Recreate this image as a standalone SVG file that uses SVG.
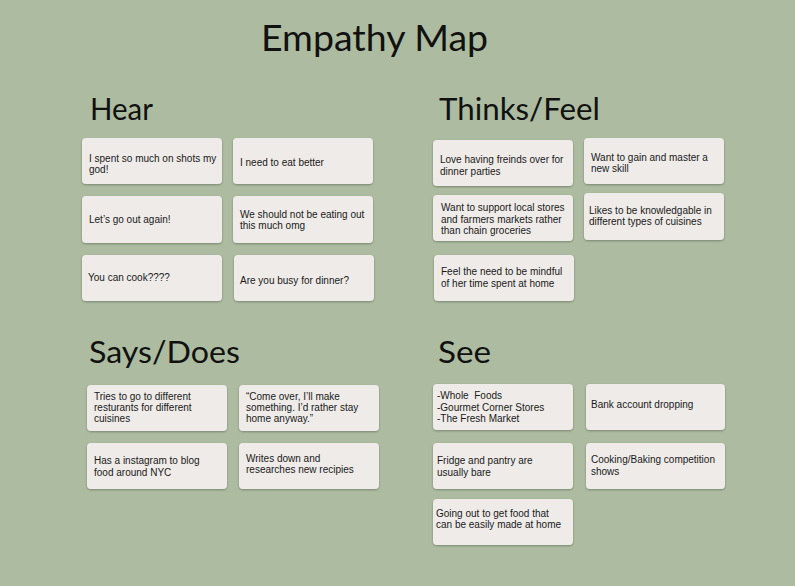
<svg xmlns="http://www.w3.org/2000/svg" width="795" height="586" viewBox="0 0 795 586">
<defs>
<filter id="sh" x="-10%" y="-20%" width="120%" height="150%">
<feDropShadow dx="0" dy="1" stdDeviation="1.2" flood-color="#000" flood-opacity="0.3"/>
</filter>
<style>
.card{fill:#eeebe8;filter:url(#sh)}
.t{font-family:"Liberation Sans",Arial,sans-serif;font-size:10px;fill:#1a1a1a}
.h{font-family:Lato,"Open Sans",sans-serif;font-size:30px;fill:#111}
.title{font-family:Lato,"Open Sans",sans-serif;font-size:36px;fill:#111}
</style>
</defs>
<rect width="795" height="586" fill="#adbca0"/>
<text class="title" x="261" y="51" textLength="227" lengthAdjust="spacingAndGlyphs">Empathy Map</text>
<text class="h" x="90" y="120" textLength="63" lengthAdjust="spacingAndGlyphs">Hear</text>
<text class="h" x="439" y="120" textLength="161" lengthAdjust="spacingAndGlyphs">Thinks/Feel</text>
<text class="h" x="89" y="363" textLength="151" lengthAdjust="spacingAndGlyphs">Says/Does</text>
<text class="h" x="438" y="363" textLength="53" lengthAdjust="spacingAndGlyphs">See</text>

<g id="hear1"><rect class="card" x="82" y="138" width="140" height="46" rx="4"/><text class="t" x="89" y="162">I spent so much on shots my</text><text class="t" x="89" y="173">god!</text></g>
<g id="hear2"><rect class="card" x="233" y="138" width="140" height="46" rx="4"/><text class="t" x="240" y="166">I need to eat better</text></g>
<g id="hear3"><rect class="card" x="82" y="196" width="140" height="47" rx="4"/><text class="t" x="89" y="223">Let’s go out again!</text></g>
<g id="hear4"><rect class="card" x="233" y="196" width="140" height="47" rx="4"/><text class="t" x="240" y="218">We should not be eating out</text><text class="t" x="240" y="229">this much omg</text></g>
<g id="hear5"><rect class="card" x="82" y="255" width="140" height="46" rx="4"/><text class="t" x="88" y="281">You can cook????</text></g>
<g id="hear6"><rect class="card" x="234" y="255" width="140" height="46" rx="4"/><text class="t" x="240" y="284">Are you busy for dinner?</text></g>

<g id="think1"><rect class="card" x="433" y="140" width="140" height="46" rx="4"/><text class="t" x="440" y="163">Love having freinds over for</text><text class="t" x="440" y="175">dinner parties</text></g>
<g id="think2"><rect class="card" x="584" y="138" width="140" height="46" rx="4"/><text class="t" x="591" y="161">Want to gain and master a</text><text class="t" x="591" y="172">new skill</text></g>
<g id="think3"><rect class="card" x="433" y="195" width="140" height="46" rx="4"/><text class="t" x="441" y="211">Want to support local stores</text><text class="t" x="441" y="223">and farmers markets rather</text><text class="t" x="441" y="234">than chain groceries</text></g>
<g id="think4"><rect class="card" x="584" y="193" width="140" height="47" rx="4"/><text class="t" x="589" y="214">Likes to be knowledgable in</text><text class="t" x="589" y="225">different types of cuisines</text></g>
<g id="think5"><rect class="card" x="434" y="255" width="140" height="46" rx="4"/><text class="t" x="441" y="275">Feel the need to be mindful</text><text class="t" x="441" y="287">of her time spent at home</text></g>

<g id="says1"><rect class="card" x="87" y="385" width="140" height="46" rx="4"/><text class="t" x="94" y="400">Tries to go to different</text><text class="t" x="94" y="411">resturants for different</text><text class="t" x="94" y="422">cuisines</text></g>
<g id="says2"><rect class="card" x="239" y="385" width="140" height="46" rx="4"/><text class="t" x="246" y="400">“Come over, I’ll make</text><text class="t" x="246" y="411">something. I’d rather stay</text><text class="t" x="246" y="422">home anyway.”</text></g>
<g id="says3"><rect class="card" x="87" y="443" width="140" height="46" rx="4"/><text class="t" x="94" y="464">Has a instagram to blog</text><text class="t" x="94" y="476">food around NYC</text></g>
<g id="says4"><rect class="card" x="239" y="443" width="140" height="46" rx="4"/><text class="t" x="246" y="462">Writes down and</text><text class="t" x="246" y="473">researches new recipies</text></g>

<g id="see1"><rect class="card" x="433" y="384" width="140" height="46" rx="4"/><text class="t" x="437" y="399" xml:space="preserve">-Whole  Foods</text><text class="t" x="437" y="411">-Gourmet Corner Stores</text><text class="t" x="437" y="422">-The Fresh Market</text></g>
<g id="see2"><rect class="card" x="586" y="384" width="139" height="46" rx="4"/><text class="t" x="591" y="408">Bank account dropping</text></g>
<g id="see3"><rect class="card" x="433" y="443" width="140" height="46" rx="4"/><text class="t" x="437" y="464">Fridge and pantry are</text><text class="t" x="437" y="476">usually bare</text></g>
<g id="see4"><rect class="card" x="586" y="443" width="139" height="46" rx="4"/><text class="t" x="591" y="463">Cooking/Baking competition</text><text class="t" x="591" y="475">shows</text></g>
<g id="see5"><rect class="card" x="433" y="499" width="140" height="46" rx="4"/><text class="t" x="436" y="517">Going out to get food that</text><text class="t" x="436" y="528">can be easily made at home</text></g>
<g id="connectors"/>
</svg>
